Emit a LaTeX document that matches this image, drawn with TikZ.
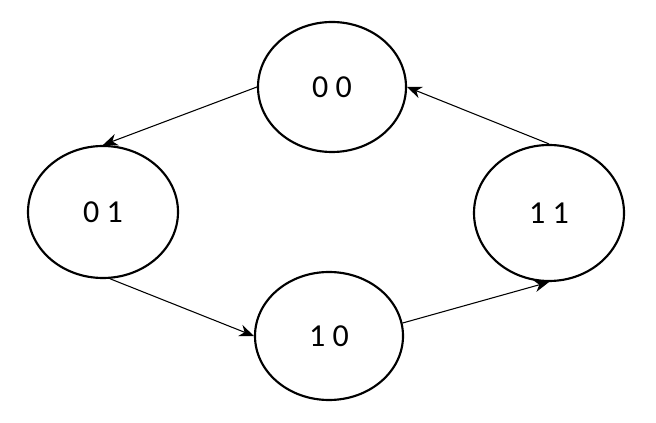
\documentclass[tikz,border=0pt]{standalone}
\usepackage{fontspec}
\setmainfont{Carlito}
\usetikzlibrary{arrows.meta,shapes.geometric}
\begin{document}
\begin{tikzpicture}[x=0.75pt,y=-0.75pt,
  state/.style={draw,line width=1.6pt,ellipse,minimum width=#1,inner sep=0pt,font=\fontsize{24}{28}\selectfont},
  link/.style={line width=0.8pt,-{Stealth[length=11pt,width=9pt,inset=3.5pt]}}]
\useasboundingbox (0,0) rectangle (656,423);
\node[state=111pt,minimum height=97.5pt] (n00) at (332,87) {0 0};
\node[state=112.5pt,minimum height=99pt] (n01) at (103,212) {0 1};
\node[state=111pt,minimum height=96pt] (n10) at (329,336) {1 0};
\node[state=112.5pt,minimum height=102pt] (n11) at (549,213) {1 1};
\draw[link] (n00.west) -- (n01.north);
\draw[link] (n01.-84) -- (n10.west);
\draw[link] (n10.10) -- (n11.south);
\draw[link] (n11.north) -- (n00.east);
\end{tikzpicture}
\end{document}
